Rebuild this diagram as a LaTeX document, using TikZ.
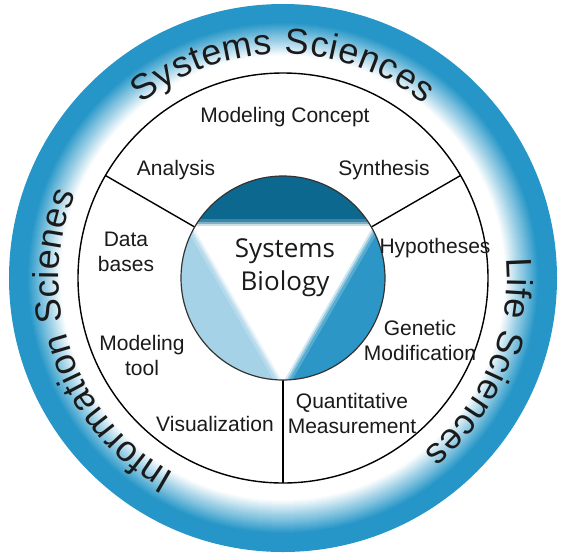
\documentclass[tikz,border=0pt]{standalone}
\usepackage{fontspec}
\setmainfont{Liberation Sans}
\newfontfamily\biofont{Open Sans}
\usetikzlibrary{decorations.text}
\definecolor{rb}{HTML}{2596C7}
\definecolor{tb}{HTML}{0D6890}
\definecolor{mb}{HTML}{2C96C6}
\definecolor{lb}{HTML}{A6D2E8}
\definecolor{tx}{HTML}{1A1A1A}
\newcommand{\ringfont}{\fontsize{36}{40}\selectfont}
\newcommand{\labfont}{\fontsize{21}{25}\selectfont}
\tikzset{
  lab/.style={font=\labfont, text=tx, align=center, inner sep=0pt},
  ringtext/.style={decorate, decoration={text along path, text align={fit to path}, text={|\color{tx}\ringfont|#1}}}
}

\begin{document}
\begin{tikzpicture}[x=1pt, y=1pt]
  \useasboundingbox (-283,-280) rectangle (281,278);

  % outer ring, blue fading to white
  \foreach \r in {274,273,...,206} {
    \pgfmathtruncatemacro{\p}{max(0,min(100,(\r-222)*100/34))}
    \fill[rb!\p!white] (0,0) circle[radius=\r];
  }

  \path[ringtext={Systems Sciences}] (129:224) arc[start angle=129, end angle=51, radius=224];
  \path[ringtext={Life Sciences}] (5:224) arc[start angle=5, end angle=-51, radius=224];
  \path[ringtext={Information Scienes}] (241:224) arc[start angle=241, end angle=158, radius=224];

  % middle circle and dividers
  \draw[line width=1.4] (0,0) circle[radius=205];
  \draw[line width=1.4] (150:102) -- (150:205);
  \draw[line width=1.4] (30:102) -- (30:205);
  \draw[line width=1.4] (270:102) -- (270:205);

  % inner circle
  \fill[tb] (30:102) arc[start angle=30, end angle=150, radius=102] -- cycle;
  \fill[mb] (-90:102) arc[start angle=-90, end angle=30, radius=102] -- cycle;
  \fill[lb] (150:102) arc[start angle=150, end angle=270, radius=102] -- cycle;
  \begin{scope}
    \clip (0,0) circle[radius=102];
    \foreach \w/\o in {16/0.2, 10/0.35, 6/0.6, 2/1}
      \draw[white, line width=\w, opacity=\o] (30:102) -- (150:102) -- (270:102) -- cycle;
  \end{scope}
  \draw[line width=1.2, draw=black!80] (0,0) circle[radius=102];

  \node[font=\biofont\fontsize{26}{33}\selectfont, text=tx, align=center] (bio) at (2,10) {Systems\\Biology};

  \node[lab] (concept) at (2,161) {Modeling Concept};
  \node[lab] (analysis) at (-107,108) {Analysis};
  \node[lab] (synth) at (101,108) {Synthesis};
  \node[lab] (data) at (-157,26) {Data\\bases};
  \node[lab] (hypo) at (152,30) {Hypotheses};
  \node[lab] (tool) at (-141,-77) {Modeling\\tool};
  \node[lab] (genetic) at (137,-62) {Genetic\\Modification};
  \node[lab] (visual) at (-68,-146) {Visualization};
  \node[lab] (measure) at (69,-135) {Quantitative\\Measurement};
\end{tikzpicture}
\end{document}
